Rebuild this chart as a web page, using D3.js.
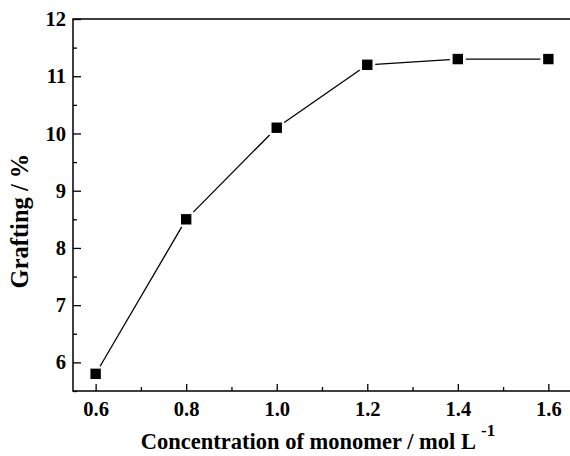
<!DOCTYPE html>
<html>
<head>
<meta charset="utf-8">
<script src="https://cdn.jsdelivr.net/npm/d3@7"></script>
<style>
html,body{margin:0;padding:0;background:#fff;}
svg{display:block;}
text{font-family:"Liberation Serif","Times New Roman","DejaVu Serif",serif !important;font-weight:bold;fill:#000;}
</style>
</head>
<body>
<svg id="chart" width="570" height="456"></svg>
<script>
const concentration = [0.6, 0.8, 1.0, 1.2, 1.4, 1.6];
const grafting = [5.8, 8.5, 10.1, 11.2, 11.3, 11.3];
const xMajorTicks = [0.6, 0.8, 1.0, 1.2, 1.4, 1.6];
const xMinorTicks = [0.7, 0.9, 1.1, 1.3, 1.5];
const yMajorTicks = [6, 7, 8, 9, 10, 11, 12];
const yMinorTicks = [5.5, 6.5, 7.5, 8.5, 9.5, 10.5, 11.5];
const xTitle = "Concentration of monomer / mol L";
const xTitleSup = "-1";
const yTitle = "Grafting / %";

const svg = d3.select("#chart");
const L = 73, R = 571, T = 19, B = 391;
const x = d3.scaleLinear().domain([0.55, 1.65]).range([L, R]);
const y = d3.scaleLinear().domain([5.5, 12]).range([B, T]);

// frame
svg.append("rect").attr("x", L).attr("y", T).attr("width", R - L).attr("height", B - T)
  .attr("fill", "none").attr("stroke", "#000").attr("stroke-width", 1.5);

function styleAxis(g) {
  g.attr("font-family", null).attr("font-size", null);
  g.select(".domain").remove();
  g.selectAll(".tick line").attr("stroke", "#000").attr("stroke-width", 1.3);
  g.selectAll("text").attr("font-size", 20.5).attr("fill", "#000");
}

svg.append("g").attr("transform", `translate(0,${B})`)
  .call(d3.axisBottom(x).tickValues(xMajorTicks).tickSize(-7).tickPadding(10).tickFormat(d3.format(".1f")))
  .call(styleAxis);
svg.append("g").attr("transform", `translate(0,${B})`)
  .call(d3.axisBottom(x).tickValues(xMinorTicks).tickSize(-4).tickFormat(""))
  .call(styleAxis);
svg.append("g").attr("transform", `translate(${L},0)`)
  .call(d3.axisLeft(y).tickValues(yMajorTicks).tickSize(-8).tickPadding(7).tickFormat(d3.format("d")))
  .call(styleAxis);
svg.append("g").attr("transform", `translate(${L},0)`)
  .call(d3.axisLeft(y).tickValues(yMinorTicks).tickSize(-4).tickFormat(""))
  .call(styleAxis);

// line segments with gaps near markers
const half = 5.2, gap = 2.8;
const pts = concentration.map((c, i) => [x(c), y(grafting[i])]);
const lineGen = d3.line();
for (let i = 0; i < pts.length - 1; i++) {
  const [x1, y1] = pts[i], [x2, y2] = pts[i + 1];
  const dx = x2 - x1, dy = y2 - y1, len = Math.hypot(dx, dy);
  const ux = dx / len, uy = dy / len;
  const edge = half / Math.max(Math.abs(ux), Math.abs(uy));
  const s = edge + gap;
  svg.append("path")
    .attr("d", lineGen([[x1 + ux * s, y1 + uy * s], [x2 - ux * s, y2 - uy * s]]))
    .attr("stroke", "#000").attr("stroke-width", 1.3).attr("fill", "none");
}

svg.append("g").selectAll("rect").data(concentration).join("rect")
  .attr("x", (d) => x(d) - half).attr("y", (d, i) => y(grafting[i]) - half)
  .attr("width", half * 2).attr("height", half * 2).attr("fill", "#000");

// titles
const xt = svg.append("text").attr("x", 318).attr("y", 449).attr("text-anchor", "middle").attr("font-size", 22.5);
xt.append("tspan").text(xTitle);
xt.append("tspan").attr("dx", 5).attr("dy", -13).attr("font-size", 17).text(xTitleSup);

svg.append("text").attr("transform", "translate(28,221) rotate(-90)")
  .attr("text-anchor", "middle").attr("font-size", 24.5).text(yTitle);
</script>
</body>
</html>
